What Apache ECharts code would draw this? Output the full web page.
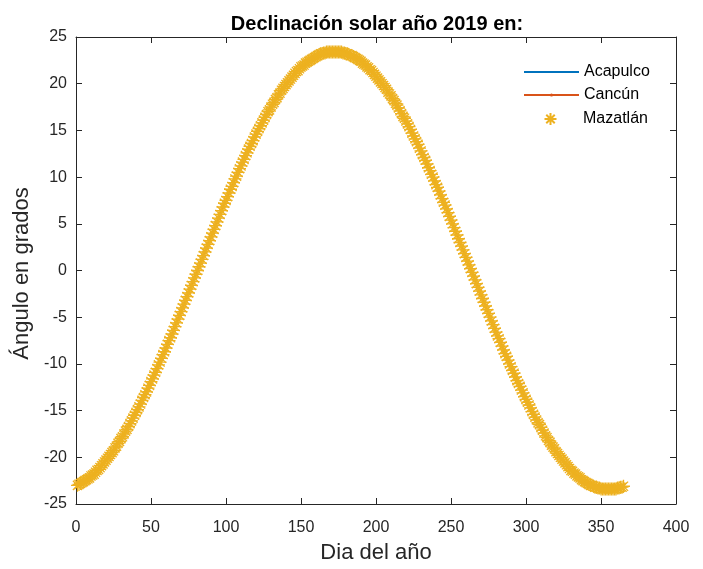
<!DOCTYPE html>
<html>
<head>
<meta charset="utf-8">
<title>Declinación solar año 2019</title>
<script src="https://cdn.jsdelivr.net/npm/echarts@6/dist/echarts.min.js"></script>
<style>
  html, body { margin: 0; padding: 0; background: #fff; }
  #chart { width: 703px; height: 569px; }
</style>
</head>
<body>
<div id="chart"></div>
<script>
// Solar declination (degrees) for each day of 2019, one value per day
const declinacion = [
  -23.0,-22.9,-22.8,-22.7,-22.6,-22.5,-22.4,-22.3,-22.2,-22.0,
  -21.9,-21.8,-21.6,-21.4,-21.3,-21.1,-20.9,-20.7,-20.5,-20.3,
  -20.1,-19.9,-19.7,-19.5,-19.3,-19.0,-18.8,-18.5,-18.3,-18.0,
  -17.8,-17.5,-17.2,-17.0,-16.7,-16.4,-16.1,-15.8,-15.5,-15.2,
  -14.9,-14.6,-14.3,-13.9,-13.6,-13.3,-13.0,-12.6,-12.3,-11.9,
  -11.6,-11.2,-10.9,-10.5,-10.1,-9.8,-9.4,-9.0,-8.7,-8.3,
  -7.9,-7.5,-7.2,-6.8,-6.4,-6.0,-5.6,-5.2,-4.8,-4.4,
  -4.0,-3.6,-3.2,-2.8,-2.4,-2.0,-1.6,-1.2,-0.8,-0.4,
  0.0,0.4,0.8,1.2,1.6,2.0,2.4,2.8,3.2,3.6,
  4.0,4.4,4.8,5.2,5.6,6.0,6.4,6.8,7.2,7.5,
  7.9,8.3,8.7,9.0,9.4,9.8,10.1,10.5,10.9,11.2,
  11.6,11.9,12.3,12.6,13.0,13.3,13.6,13.9,14.3,14.6,
  14.9,15.2,15.5,15.8,16.1,16.4,16.7,17.0,17.2,17.5,
  17.8,18.0,18.3,18.5,18.8,19.0,19.3,19.5,19.7,19.9,
  20.1,20.3,20.5,20.7,20.9,21.1,21.3,21.4,21.6,21.8,
  21.9,22.0,22.2,22.3,22.4,22.5,22.6,22.7,22.8,22.9,
  23.0,23.1,23.2,23.2,23.3,23.3,23.4,23.4,23.4,23.4,
  23.4,23.4,23.4,23.4,23.4,23.4,23.4,23.3,23.3,23.2,
  23.2,23.1,23.0,23.0,22.9,22.8,22.7,22.6,22.5,22.4,
  22.2,22.1,22.0,21.8,21.7,21.5,21.4,21.2,21.0,20.8,
  20.6,20.4,20.2,20.0,19.8,19.6,19.4,19.1,18.9,18.7,
  18.4,18.2,17.9,17.7,17.4,17.1,16.8,16.5,16.3,16.0,
  15.7,15.4,15.1,14.7,14.4,14.1,13.8,13.5,13.1,12.8,
  12.4,12.1,11.8,11.4,11.0,10.7,10.3,10.0,9.6,9.2,
  8.9,8.5,8.1,7.7,7.3,7.0,6.6,6.2,5.8,5.4,
  5.0,4.6,4.2,3.8,3.4,3.0,2.6,2.2,1.8,1.4,
  1.0,0.6,0.2,-0.2,-0.6,-1.0,-1.4,-1.8,-2.2,-2.6,
  -3.0,-3.4,-3.8,-4.2,-4.6,-5.0,-5.4,-5.8,-6.2,-6.6,
  -7.0,-7.3,-7.7,-8.1,-8.5,-8.9,-9.2,-9.6,-10.0,-10.3,
  -10.7,-11.0,-11.4,-11.8,-12.1,-12.4,-12.8,-13.1,-13.5,-13.8,
  -14.1,-14.4,-14.7,-15.1,-15.4,-15.7,-16.0,-16.3,-16.5,-16.8,
  -17.1,-17.4,-17.7,-17.9,-18.2,-18.4,-18.7,-18.9,-19.1,-19.4,
  -19.6,-19.8,-20.0,-20.2,-20.4,-20.6,-20.8,-21.0,-21.2,-21.4,
  -21.5,-21.7,-21.8,-22.0,-22.1,-22.2,-22.4,-22.5,-22.6,-22.7,
  -22.8,-22.9,-23.0,-23.0,-23.1,-23.2,-23.2,-23.3,-23.3,-23.4,
  -23.4,-23.4,-23.4,-23.4,-23.4,-23.4,-23.4,-23.4,-23.4,-23.4,
  -23.3,-23.3,-23.2,-23.2,-23.1
];

// Day of the year, 1..365
const dias = declinacion.map((_, i) => i + 1);

// The three cities share the same declination curve
const ciudades = ['Acapulco', 'Cancún', 'Mazatlán'];
const acapulco = declinacion;
const cancun = declinacion;
const mazatlan = declinacion;

const ticksX = [0, 50, 100, 150, 200, 250, 300, 350, 400];
const ticksY = [-25, -20, -15, -10, -5, 0, 5, 10, 15, 20, 25];

const FONT = '"Liberation Sans", Arial, Helvetica, sans-serif';
const AXIS = '#262626';
const ASTERISK = 'path://M0,-10L0,10M-10,0L10,0M-7.07,-7.07L7.07,7.07M-7.07,7.07L7.07,-7.07';

const pares = (vals) => dias.map((d, i) => [d, vals[i]]);

const baseX = {
  type: 'value',
  min: ticksX[0], max: ticksX[ticksX.length - 1], interval: 50,
  axisLine: { show: true, onZero: false, lineStyle: { color: AXIS, width: 1 } },
  axisTick: { show: true, inside: true, length: 6, lineStyle: { color: AXIS } },
  splitLine: { show: false },
  axisLabel: { show: true, fontFamily: FONT, fontSize: 16, color: AXIS, margin: 16 }
};
const baseY = {
  type: 'value',
  min: ticksY[0], max: ticksY[ticksY.length - 1], interval: 5,
  axisLine: { show: true, onZero: false, lineStyle: { color: AXIS, width: 1 } },
  axisTick: { show: true, inside: true, length: 6, lineStyle: { color: AXIS } },
  splitLine: { show: false },
  axisLabel: { show: true, fontFamily: FONT, fontSize: 16, color: AXIS, margin: 9 }
};

const legendText = { fontFamily: FONT, fontSize: 16, color: '#000' };

const chart = echarts.init(document.getElementById('chart'), null, { renderer: 'canvas' });

chart.setOption({
  animation: false,
  backgroundColor: '#ffffff',
  title: {
    text: 'Declinación solar año 2019 en:',
    left: 372, top: 9, textAlign: 'center',
    textStyle: { fontFamily: FONT, fontSize: 20, fontWeight: 'bold', color: '#000' }
  },
  grid: { left: 76, top: 37, width: 600, height: 473, containLabel: false },
  legend: [
    {
      data: [ciudades[0]], left: 523, top: 64, padding: 0,
      itemWidth: 55, itemHeight: 2, itemStyle: { opacity: 0 },
      textStyle: legendText
    },
    {
      data: [ciudades[1]], left: 523, top: 87, padding: 0,
      itemWidth: 55, itemHeight: 4,
      textStyle: legendText
    },
    {
      data: [ciudades[2]], left: 523, top: 111, padding: 0,
      itemWidth: 55, itemHeight: 15,
      textStyle: legendText
    }
  ],
  xAxis: [
    Object.assign({}, baseX, {
      position: 'bottom',
      name: 'Dia del año', nameLocation: 'middle', nameGap: 38,
      nameTextStyle: { fontFamily: FONT, fontSize: 22, color: AXIS }
    }),
    Object.assign({}, baseX, { position: 'top', axisLabel: { show: false } })
  ],
  yAxis: [
    Object.assign({}, baseY, {
      position: 'left',
      name: 'Ángulo en grados', nameLocation: 'middle', nameGap: 43, nameRotate: 90,
      nameTextStyle: { fontFamily: FONT, fontSize: 22, color: AXIS, padding: [0, 6, 0, 0] }
    }),
    Object.assign({}, baseY, { position: 'right', axisLabel: { show: false } })
  ],
  series: [
    {
      name: ciudades[0], type: 'line', data: pares(acapulco),
      symbol: 'none', color: '#0072BD',
      lineStyle: { width: 1, color: '#0072BD' }
    },
    {
      name: ciudades[1], type: 'line', data: pares(cancun),
      symbol: 'circle', symbolSize: 3, showSymbol: true, color: '#D95319',
      itemStyle: { color: '#D95319' },
      lineStyle: { width: 1, color: '#D95319' }
    },
    {
      name: ciudades[2], type: 'line', data: pares(mazatlan),
      symbol: ASTERISK, symbolSize: 13, showSymbol: true, color: '#EDB120',
      itemStyle: { color: '#EDB120', borderColor: '#EDB120', borderWidth: 1.3 },
      lineStyle: { width: 0, opacity: 0 }
    }
  ]
});
</script>
</body>
</html>
